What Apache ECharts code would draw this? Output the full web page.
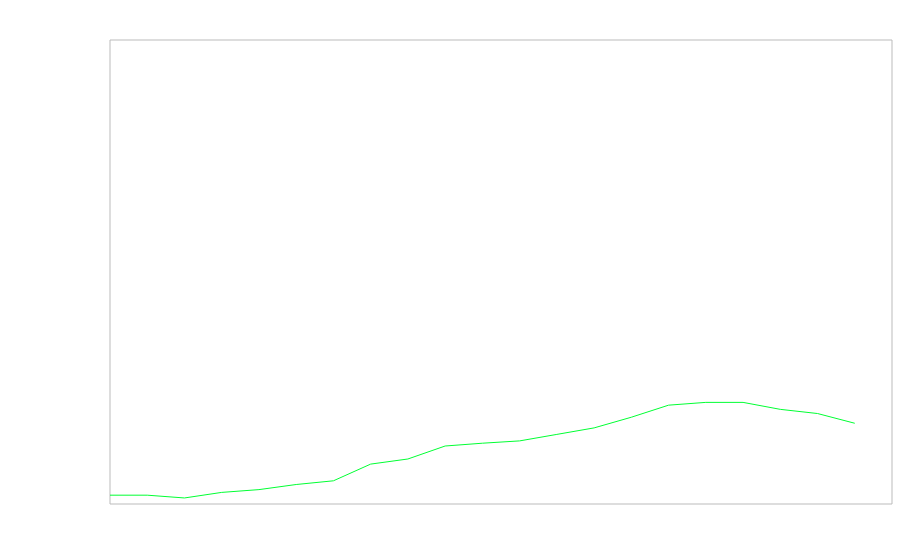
<!DOCTYPE html>
<html><head><meta charset="utf-8">
<script src="https://cdn.jsdelivr.net/npm/echarts@6/dist/echarts.min.js"></script>
<style>html,body{margin:0;padding:0;background:#fff}#c{width:900px;height:560px}</style>
</head><body><div id="c"></div>
<script>
const categories = ['1','2','3','4','5','6','7','8','9','10','11','12','13','14','15','16','17','18','19','20','21','22'];
const values = [1.9, 1.9, 1.3, 2.5, 3.1, 4.2, 5.0, 8.6, 9.7, 12.5, 13.1, 13.6, 15.0, 16.4, 18.7, 21.3, 21.9, 21.9, 20.4, 19.5, 17.4, null];
const chart = echarts.init(document.getElementById('c'));
chart.setOption({
  animation: false,
  grid: { left: 110, right: 8, top: 40, bottom: 56, show: true, borderColor: '#bbb', borderWidth: 1, backgroundColor: 'transparent' },
  xAxis: { type: 'category', data: categories, boundaryGap: false, show: false },
  yAxis: { type: 'value', min: 0, max: 100, show: false },
  series: [{ type: 'line', data: values, symbol: 'none', lineStyle: { color: '#00ff33', width: 1 }, itemStyle: { color: '#00ff33' } }]
});
</script></body></html>
